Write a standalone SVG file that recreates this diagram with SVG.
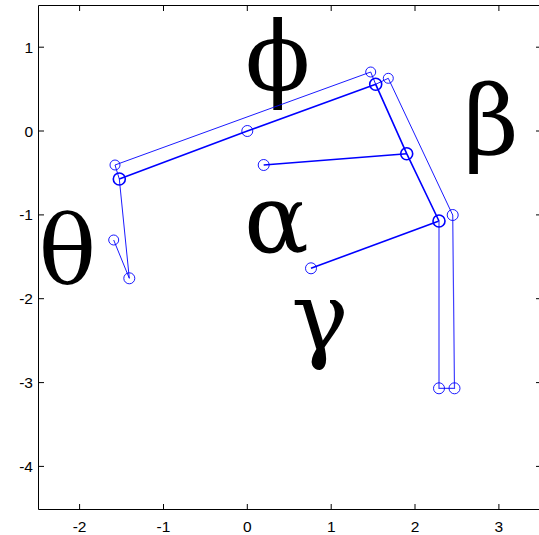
<svg xmlns="http://www.w3.org/2000/svg" width="539" height="535" viewBox="0 0 539 535">
<style>
.ax{stroke:#000;stroke-width:1;fill:none}
.tl{font-family:"Liberation Sans",Arial,sans-serif;font-size:15.5px;fill:#000}
.gk{font-family:"DejaVu Serif",serif;font-size:96px;fill:#000;text-anchor:middle}
.thk{stroke:#0000ff;stroke-width:1.6;fill:none}
.thn{stroke:#0000ff;stroke-width:0.9;fill:none}
.leg{stroke:#4040ff;stroke-width:1.2;fill:none}
.c1{stroke:#0000ff;stroke-width:0.9;fill:none}
.c2{stroke:#0000ff;stroke-width:1.6;fill:none}
</style>
<rect width="539" height="535" fill="#fff"/>
<g id="axes">
<path class="ax" d="M38.5,5.5H541.5V509.5H38.5Z"/>
<path class="ax" d="M79.6,509.5v-5.5M163.5,509.5v-5.5M247.3,509.5v-5.5M331.2,509.5v-5.5M415,509.5v-5.5M498.9,509.5v-5.5
M79.6,5.5v5.5M163.5,5.5v5.5M247.3,5.5v5.5M331.2,5.5v5.5M415,5.5v5.5M498.9,5.5v5.5
M38.5,47.2h5.5M38.5,131h5.5M38.5,214.9h5.5M38.5,298.7h5.5M38.5,382.6h5.5M38.5,466.4h5.5
M541.5,47.2h-5.5M541.5,131h-5.5M541.5,214.9h-5.5M541.5,298.7h-5.5M541.5,382.6h-5.5M541.5,466.4h-5.5"/>
<g class="tl" text-anchor="middle">
<text x="79.6" y="531.5">-2</text>
<text x="163.5" y="531.5">-1</text>
<text x="247.3" y="531.5">0</text>
<text x="331.2" y="531.5">1</text>
<text x="415" y="531.5">2</text>
<text x="498.9" y="531.5">3</text>
</g>
<g class="tl" text-anchor="end">
<text x="33" y="52.7">1</text>
<text x="33" y="136.5">0</text>
<text x="33" y="220.4">-1</text>
<text x="33" y="304.2">-2</text>
<text x="33" y="388.1">-3</text>
<text x="33" y="471.9">-4</text>
</g>
</g>
<g id="labels">
<text class="gk" x="277.7" y="90">ϕ</text>
<text class="gk" x="491" y="154">β</text>
<text class="gk" x="67.5" y="284">θ</text>
<text class="gk" x="276.3" y="252">α</text>
<text class="gk" x="320" y="350">γ</text>
</g>
<g id="connectors">
<polyline class="thk" points="119.3,179 247.3,131 375.7,84.3 406.7,153.7 439,221"/>
<line class="thk" x1="263.7" y1="165" x2="406.7" y2="153.7"/>
<line class="thk" x1="311" y1="268.3" x2="439" y2="221"/>
<polyline class="thn" points="119.3,179 115,165 370.7,72 375.7,84.3 388.3,78.3 452.7,215"/>
<polyline class="leg" points="439,221 439,388.3 454.5,388.3 452.7,215"/>
<polyline class="thn" points="119.3,179 129.3,278.3 113.7,240"/>
</g>
<g id="joints">
<circle class="c1" cx="115" cy="165" r="5"/>
<circle class="c2" cx="119.3" cy="179" r="6"/>
<circle class="c1" cx="247.3" cy="131" r="5.5"/>
<circle class="c1" cx="370.7" cy="72" r="5"/>
<circle class="c2" cx="375.7" cy="84.3" r="6"/>
<circle class="c1" cx="388.3" cy="78.3" r="5"/>
<circle class="c2" cx="406.7" cy="153.7" r="6"/>
<circle class="c2" cx="439" cy="221" r="6"/>
<circle class="c1" cx="452.7" cy="215" r="5.5"/>
<circle class="c1" cx="263.7" cy="165" r="5.5"/>
<circle class="c1" cx="311" cy="268.3" r="5.5"/>
<circle class="c1" cx="113.7" cy="240" r="5"/>
<circle class="c1" cx="129.3" cy="278.3" r="5.5"/>
<circle class="c1" cx="439" cy="388.3" r="5.5"/>
<circle class="c1" cx="454.5" cy="388.3" r="5.5"/>
</g>
</svg>
